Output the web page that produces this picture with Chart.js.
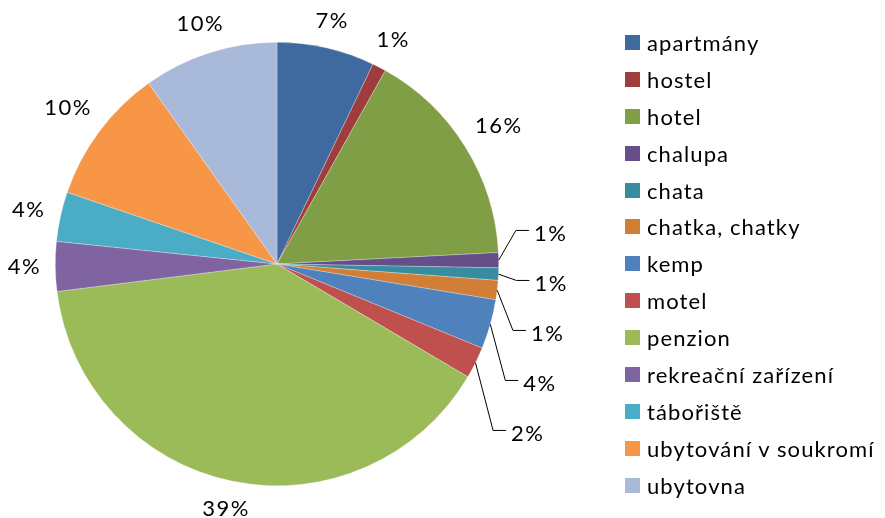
<!DOCTYPE html>
<html>
<head>
<meta charset="utf-8">
<script src="https://cdn.jsdelivr.net/npm/chart.js@4.4.1/dist/chart.umd.min.js"></script>
<style>
    body { margin: 0; background: #fff; }
    #wrap { position: relative; width: 885px; height: 518px; }
    #legend { position: absolute; left: 625px; top: 24px; font: 22px Lato, sans-serif; letter-spacing: 1.1px; color: #000; }
    .row { display: flex; align-items: center; height: 36.9px; white-space: nowrap; }
    .sw { width: 15px; height: 15px; margin-right: 7px; flex: none; }
</style>
</head>
<body>
<div id="wrap">
    <canvas id="graf" width="885" height="518"></canvas>
    <div id="legend"></div>
</div>
<script>
// typy ubytování
const kategorie = [
    "apartmány", "hostel", "hotel", "chalupa", "chata", "chatka, chatky",
    "kemp", "motel", "penzion", "rekreační zařízení", "tábořiště",
    "ubytování v soukromí", "ubytovna"
];
// podíly v procentech
const podily = [7.1, 1.0, 16.0, 1.1, 0.9, 1.4, 3.6, 2.3, 39.4, 3.6, 3.6, 9.9, 9.8];
// popisky jak jsou v grafu
const popisky = ["7%", "1%", "16%", "1%", "1%", "1%", "4%", "2%", "39%", "4%", "4%", "10%", "10%"];
const barvy = [
    "#3E6AA0", "#9E3D3B", "#7F9E46", "#664E88", "#378CA0", "#D17F36",
    "#4F81BD", "#C0504D", "#9BBB59", "#8064A2", "#4BACC6", "#F79646", "#A8B9D9"
];

const pismo = "22px Lato, sans-serif";

// popisky procent s vodicimi carami
const popiskyProcent = {
    id: "popiskyProcent",
    afterDraw(chart) {
        const ctx = chart.ctx;
        const meta = chart.getDatasetMeta(0);
        ctx.save();
        ctx.font = pismo;
        ctx.letterSpacing = "1.5px";
        const h = 20;
        const polozky = meta.data.map((arc, i) => {
            const p = arc.getProps(["x", "y", "startAngle", "endAngle", "outerRadius"], true);
            const stred = (p.startAngle + p.endAngle) / 2;
            const w = ctx.measureText(popisky[i]).width;
            const cos = Math.cos(stred), sin = Math.sin(stred);
            const d = p.outerRadius + 14 + (w / 2) * Math.abs(cos) + (h / 2) * Math.abs(sin);
            return {
                text: popisky[i], w, cos, sin,
                cx: p.x, cy: p.y, r: p.outerRadius,
                lx: p.x + cos * d, ly: p.y + sin * d, y0: p.y + sin * d
            };
        });
        // rozhozeni prekryvajicich se popisku na prave strane
        const prava = polozky.filter(it => it.cos > 0).sort((a, b) => a.ly - b.ly);
        const rozestup = 50;
        for (let k = 0; k < 300; k++) {
            for (let j = 1; j < prava.length; j++) {
                const a = prava[j - 1], b = prava[j];
                if (Math.abs(a.lx - b.lx) < (a.w + b.w) / 2 + 4) {
                    const pres = rozestup - (b.ly - a.ly);
                    if (pres > 0) {
                        a.ly -= pres * 0.35;
                        b.ly += pres * 0.65;
                    }
                }
            }
        }
        ctx.fillStyle = "#000";
        ctx.strokeStyle = "#000";
        ctx.lineWidth = 1;
        ctx.textBaseline = "middle";
        for (const it of polozky) {
            if (Math.abs(it.ly - it.y0) > 5) {
                const dy = it.ly - it.cy;
                const a = it.r + 31, b = it.r * 1.8;
                const xKonec = it.cx + a * Math.sqrt(Math.max(0, 1 - (dy / b) * (dy / b)));
                const yCara = it.ly - 2;
                ctx.beginPath();
                ctx.moveTo(it.cx + it.cos * it.r, it.cy + it.sin * it.r);
                ctx.lineTo(xKonec - 13, yCara);
                ctx.lineTo(xKonec, yCara);
                ctx.stroke();
                ctx.textAlign = "left";
                ctx.fillText(it.text, xKonec + 5, it.ly + 1);
            } else {
                ctx.textAlign = "center";
                ctx.fillText(it.text, it.lx, it.ly);
            }
        }
        ctx.restore();
    }
};

new Chart(document.querySelector("#graf"), {
    type: "pie",
    data: {
        labels: kategorie,
        datasets: [{
            data: podily,
            backgroundColor: barvy,
            borderColor: "rgba(255,255,255,0.45)",
            borderWidth: 0.6
        }]
    },
    options: {
        responsive: false,
        animation: false,
        layout: { padding: { left: 55, right: 386, top: 42, bottom: 32 } },
        plugins: {
            legend: { display: false },
            tooltip: { enabled: false }
        }
    },
    plugins: [popiskyProcent]
});

// legenda
const legenda = document.querySelector("#legend");
for (let i = 0; i < kategorie.length; i++) {
    const radek = document.createElement("div");
    radek.className = "row";
    radek.innerHTML = `<span class="sw" style="background:${barvy[i]}"></span><span>${kategorie[i]}</span>`;
    legenda.appendChild(radek);
}
</script>
</body>
</html>
